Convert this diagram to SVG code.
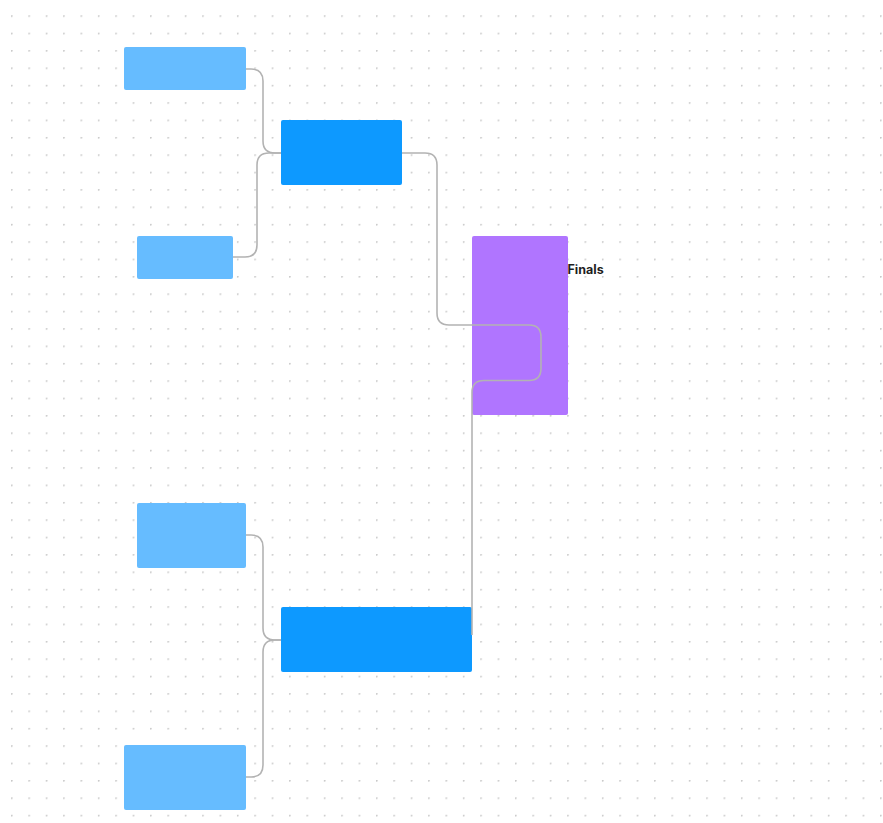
<svg xmlns="http://www.w3.org/2000/svg" width="883" height="823" viewBox="0 0 883 823">
  <defs>
    <pattern id="dots" x="11" y="15.3" width="17.38" height="17.38" patternUnits="userSpaceOnUse">
      <circle cx="0.7" cy="0.7" r="1" fill="#c8c8c8"/>
    </pattern>
    <style>
      .light { fill: #66bcff; }
      .dark { fill: #0d99ff; }
      .purple { fill: #b075ff; }
      .conn { fill: none; stroke: #b3b3b3; stroke-width: 1.6; }
      .label { font-family: Inter, "Liberation Sans", sans-serif; font-size: 12.5px; font-weight: 700; fill: #1e1e1e; }
    </style>
  </defs>
  <rect width="883" height="823" fill="#ffffff"/>
  <rect x="0" y="0" width="883" height="823" fill="url(#dots)"/>

  <g id="node-finals">
    <rect class="purple" x="472" y="236" width="96" height="179" rx="2"/>
    <text class="label" x="567.5" y="273.5">Finals</text>
  </g>
  <g id="node-a">
    <rect class="light" x="124" y="47" width="122" height="43" rx="2"/>
  </g>
  <g id="node-b">
    <rect class="light" x="137" y="236" width="96" height="43" rx="2"/>
  </g>
  <g id="node-c">
    <rect class="dark" x="281" y="120" width="121" height="65" rx="2"/>
  </g>
  <g id="node-d">
    <rect class="light" x="137" y="503" width="109" height="65" rx="2"/>
  </g>
  <g id="node-e">
    <rect class="light" x="124" y="745" width="122" height="65" rx="2"/>
  </g>
  <g id="node-f">
    <rect class="dark" x="281" y="607" width="191" height="65" rx="2"/>
  </g>

  <g id="connectors">
    <path class="conn" d="M246,69 H251 Q263,69 263,81 V141 Q263,153 275,153 H281"/>
    <path class="conn" d="M233,257 H245 Q257,257 257,245 V165 Q257,153 269,153 H281"/>
    <path class="conn" d="M402,153 H425 Q437,153 437,165 V313 Q437,325 449,325 H529 Q541,325 541,337 V352"/>
    <path class="conn" d="M472,635 V392.5 Q472,380.5 484,380.5 H529 Q541,380.5 541,368.5 V352"/>
    <path class="conn" d="M246,535 H251 Q263,535 263,547 V628 Q263,640 275,640 H281"/>
    <path class="conn" d="M246,777 H251 Q263,777 263,765 V652 Q263,640 275,640 H281"/>
  </g>
</svg>
